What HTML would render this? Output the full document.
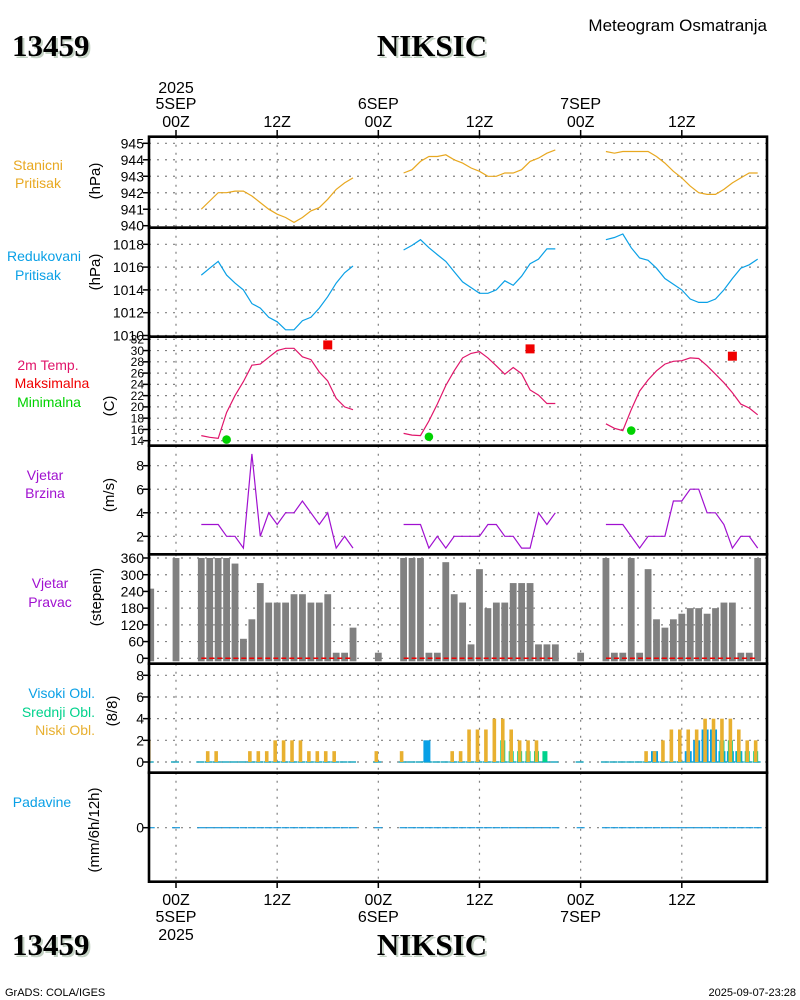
<!DOCTYPE html>
<html><head><meta charset="utf-8"><title>Meteogram NIKSIC</title>
<style>
html,body{margin:0;padding:0;background:#fff;}
svg{display:block;font-family:"Liberation Sans",sans-serif;}
</style></head>
<body>
<svg id="chart" width="800" height="1000" viewBox="0 0 800 1000" xmlns="http://www.w3.org/2000/svg">
<rect x="0" y="0" width="800" height="1000" fill="#fff"/>
<g id="hdr">
<text x="14" y="58" font-family="Liberation Serif,serif" font-weight="bold" font-size="31" fill="#c4d2c4">13459</text>
<text x="12" y="56" font-family="Liberation Serif,serif" font-weight="bold" font-size="31" fill="#000">13459</text>
<text x="434" y="58" text-anchor="middle" font-family="Liberation Serif,serif" font-weight="bold" font-size="31" fill="#c4d2c4">NIKSIC</text>
<text x="432" y="56" text-anchor="middle" font-family="Liberation Serif,serif" font-weight="bold" font-size="31" fill="#000">NIKSIC</text>
<text x="767" y="31" text-anchor="end" font-size="17" fill="#000">Meteogram Osmatranja</text>
<text x="14" y="957" font-family="Liberation Serif,serif" font-weight="bold" font-size="31" fill="#c4d2c4">13459</text>
<text x="12" y="955" font-family="Liberation Serif,serif" font-weight="bold" font-size="31" fill="#000">13459</text>
<text x="434" y="957" text-anchor="middle" font-family="Liberation Serif,serif" font-weight="bold" font-size="31" fill="#c4d2c4">NIKSIC</text>
<text x="432" y="955" text-anchor="middle" font-family="Liberation Serif,serif" font-weight="bold" font-size="31" fill="#000">NIKSIC</text>
<text x="5" y="996" font-size="11" fill="#000">GrADS: COLA/IGES</text>
<text x="796" y="996" text-anchor="end" font-size="11" fill="#000">2025-09-07-23:28</text>
</g>
<g id="plot"></g>
</svg>
<script>
// ---- data (hours from 2025-09-05 00Z) ----
const dayStarts = [3, 27, 51];
const stationPressure = [
 [941.0,941.5,942.0,942.0,942.1,942.1,941.8,941.4,941.0,940.7,940.5,940.2,940.5,940.9,941.1,941.6,942.2,942.6,942.9],
 [943.2,943.4,943.9,944.2,944.2,944.3,944.0,943.8,943.5,943.3,943.0,943.0,943.2,943.2,943.4,943.9,944.1,944.4,944.6],
 [944.5,944.4,944.5,944.5,944.5,944.5,944.2,943.8,943.3,942.9,942.4,942.0,941.9,941.9,942.2,942.6,942.9,943.2,943.2]];
const reducedPressure = [
 [1015.3,1015.9,1016.5,1015.3,1014.6,1014.0,1012.8,1012.4,1011.6,1011.2,1010.5,1010.5,1011.3,1011.6,1012.4,1013.4,1014.6,1015.5,1016.1],
 [1017.5,1017.9,1018.4,1017.7,1017.1,1016.5,1015.6,1014.7,1014.2,1013.7,1013.7,1014.0,1014.8,1014.4,1015.2,1016.3,1016.7,1017.6,1017.6],
 [1018.4,1018.6,1018.9,1017.7,1016.8,1016.6,1015.9,1015.0,1014.5,1014.0,1013.2,1012.9,1012.9,1013.2,1014.0,1015.0,1015.9,1016.2,1016.7]];
const temperature = [
 [14.9,14.6,14.4,19.0,22.0,24.5,27.4,27.6,28.8,30.0,30.4,30.4,28.9,28.4,26.2,24.6,21.5,20.0,19.5],
 [15.3,15.0,14.9,17.5,20.5,23.8,26.4,28.7,29.5,29.8,28.7,27.3,25.8,27.0,25.9,23.0,22.1,20.6,20.6],
 [17.0,16.2,15.8,19.5,22.8,24.8,26.4,27.6,28.1,28.2,28.7,28.6,27.3,25.8,24.3,22.5,20.5,19.8,18.6]];
const maxTempHours = [18, 42, 66];
const maxTempValues = [31.0, 30.3, 29.0];
const minTempHours = [6, 30, 54];
const minTempValues = [14.2, 14.7, 15.8];
const windSpeed = [
 [3,3,3,2,2,1,9,2,4,3,4,4,5,4,3,4,1,2,1],
 [3,3,3,1,2,1,2,2,2,2,3,3,2,2,1,1,4,3,4],
 [3,3,3,2,1,2,2,2,5,5,6,6,4,4,3,1,2,2,1]];
const dirHours = [-3,0,3,4,5,6,7,8,9,10,11,12,13,14,15,16,17,18,19,20,21,24,
 27,28,29,30,31,32,33,34,35,36,37,38,39,40,41,42,43,44,45,48,
 51,52,53,54,55,56,57,58,59,60,61,62,63,64,65,66,67,68,69];
const dirValues = [250,360,360,360,360,360,340,70,140,270,200,200,200,230,230,200,200,230,20,20,110,20,
 360,360,360,20,20,345,230,200,50,320,180,200,200,270,270,270,50,50,50,20,
 360,20,20,360,20,320,140,110,140,160,180,180,160,180,200,200,20,20,360];
const lowCloudHours = [-3,4,5,9,10,11,12,13,14,15,16,17,18,19,24,27,33,34,35,36,37,38,39,40,41,42,43,56,57,58,59,60,61,62,63,64,65,66,67,68,69];
const lowCloudValues = [2,1,1,1,1,1,2,2,2,2,1,1,1,1,1,1,1,1,3,3,3,4,4,3,2,2,2,1,1,2,3,3,3,3,4,4,4,4,3,2,2];
const midCloudHours = [39,40,41,42,43,44,65,66,67,68,69];
const midCloudValues = [2,1,1,1,1,1,2,2,1,1,1];
const highCloudHours = [30,57,61,62,63,64,65,66,67];
const highCloudValues = [2,1,1,2,3,3,1,1,1];
const obsHours = [-3,0,3,4,5,6,7,8,9,10,11,12,13,14,15,16,17,18,19,20,21,24,
 27,28,29,30,31,32,33,34,35,36,37,38,39,40,41,42,43,44,45,48,
 51,52,53,54,55,56,57,58,59,60,61,62,63,64,65,66,67,68,69];
const precipTicks = [0];
const gridHours = [0,12,24,36,48,60];
const topTimeLabels = [["2025","5SEP","00Z"],["","","12Z"],["","6SEP","00Z"],["","","12Z"],["","7SEP","00Z"],["","","12Z"]];
const botTimeLabels = [["00Z","5SEP","2025"],["12Z","",""],["00Z","6SEP",""],["12Z","",""],["00Z","7SEP",""],["12Z","",""]];

// ---- layout ----
const NS = "http://www.w3.org/2000/svg";
const plot = document.getElementById('plot');
const XL = 149, XR = 767;
function X(h){ return 176 + 8.43*h; }
function lin(v0,y0,v1,y1){ return v => y0 + (v-v0)*(y1-y0)/(v1-v0); }
const panels = [
 {name:'station-pressure', top:136.7, bot:227.7, y:lin(940,225.7,945,143.3), ticks:[940,941,942,943,944,945]},
 {name:'reduced-pressure', top:227.7, bot:336.7, y:lin(1010,335.5,1018,244.3), ticks:[1010,1012,1014,1016,1018]},
 {name:'temperature', top:336.7, bot:445.7, y:lin(14,440.7,32,339.3), ticks:[14,16,18,20,22,24,26,28,30,32]},
 {name:'wind-speed', top:445.7, bot:554.3, y:lin(2,536.3,8,465.7), ticks:[2,4,6,8]},
 {name:'wind-direction', top:554.3, bot:663.7, y:lin(0,658.3,360,558), ticks:[0,60,120,180,240,300,360]},
 {name:'cloud-cover', top:663.7, bot:772.7, y:lin(0,762,8,675.3), ticks:[0,2,4,6,8]},
 {name:'precipitation', top:772.7, bot:881.7, y:lin(0,827.7,1,810), ticks:precipTicks}
];
function mk(tag, attrs, parent){
 const e = document.createElementNS(NS, tag);
 for (const k in attrs) e.setAttribute(k, attrs[k]);
 (parent||plot).appendChild(e);
 return e;
}
function txt(x,y,s,attrs,parent){
 const e = mk('text', Object.assign({x:x,y:y},attrs||{}), parent);
 e.textContent = s; return e;
}

// grids and ticks
panels.forEach(p => {
 const g = mk('g', {});
 
 
 gridHours.forEach(h => {
  const l = mk('line', {x1:X(h),x2:X(h),y1:p.top,y2:p.bot,stroke:'#808080','stroke-width':1.2,'stroke-dasharray':'2,6'}, g);
  
  
 });
 p.ticks.forEach(t => {
  const yy = p.y(t);
  const l = mk('line', {x1:XL,x2:XR,y1:yy,y2:yy,stroke:'#808080','stroke-width':1.2,'stroke-dasharray':'2,6'}, g);
  
  
  const tk = mk('line', {x1:XL-6,x2:XL,y1:yy,y2:yy,stroke:'#000','stroke-width':1.5}, g);
  
  
  const fs = p.name==='temperature' ? 12 : 14;
  const lb = txt(144, yy + fs*0.36, String(t), {'text-anchor':'end','font-size':fs,fill:'#000'}, g);
  
  
 });
 p.g = g;
});

// time labels & ticks
gridHours.forEach((h,i) => {
 mk('line',{x1:X(h),x2:X(h),y1:130,y2:137,stroke:'#000','stroke-width':1.5});
 mk('line',{x1:X(h),x2:X(h),y1:881,y2:888,stroke:'#000','stroke-width':1.5});
 const tl = topTimeLabels[i];
 [93,109,127].forEach((yy,j)=>{ if(tl[j]){ const t=txt(X(h),yy,tl[j],{'text-anchor':'middle','font-size':16,fill:'#000'});
    }});
 const bl = botTimeLabels[i];
 [905,922,940].forEach((yy,j)=>{ if(bl[j]){ const t=txt(X(h),yy,bl[j],{'text-anchor':'middle','font-size':16,fill:'#000'});
    }});
});

// series lines
function drawDays(series, p, color, name){
 series.forEach((vals, d) => {
  const pts = vals.map((v,i)=> X(dayStarts[d]+i).toFixed(1)+','+p.y(v).toFixed(1)).join(' ');
  const l = mk('polyline',{points:pts,fill:'none',stroke:color,'stroke-width':1.2}, p.g);
  
  
 });
}
drawDays(stationPressure, panels[0], '#e8a820', 'station-pressure-line');
drawDays(reducedPressure, panels[1], '#0aa0e6', 'reduced-pressure-line');
drawDays(temperature, panels[2], '#e0156a', 'temperature-line');
drawDays(windSpeed, panels[3], '#a010d0', 'wind-speed-line');

maxTempHours.forEach((h,i)=>{
 const r = mk('rect',{x:X(h)-4.5,y:panels[2].y(maxTempValues[i])-4.5,width:9,height:9,fill:'#f00000'}, panels[2].g);
 
 
});
minTempHours.forEach((h,i)=>{
 const c = mk('circle',{cx:X(h),cy:panels[2].y(minTempValues[i]),r:4.3,fill:'#00d200'}, panels[2].g);
 
 
});

// wind direction bars
const pd = panels[4];
dirHours.forEach((h,i)=>{
 let x0 = X(h)-3.4, x1 = X(h)+3.4;
 x0 = Math.max(x0, XL); x1 = Math.min(x1, XR);
 const b = mk('rect',{x:x0,y:pd.y(dirValues[i]),width:x1-x0,height:pd.y(0)+3-pd.y(dirValues[i]),fill:'#808080'}, pd.g);
 
 
});
dayStarts.forEach(s=>{
 const l = mk('line',{x1:X(s),x2:X(s+18),y1:pd.y(0),y2:pd.y(0),stroke:'#f00000','stroke-width':1.5,'stroke-dasharray':'5,3'}, pd.g);
 
 
});

// clouds
const pc = panels[5];
function cloudBars(hours, vals, w, color, name){
 hours.forEach((h,i)=>{
  let x0 = X(h)-2-w/2, x1 = X(h)-2+w/2;
  x0 = Math.max(x0, XL+1); x1 = Math.min(x1, XR);
  const b = mk('rect',{x:x0,y:pc.y(vals[i]),width:x1-x0,height:pc.y(0)-pc.y(vals[i]),fill:color}, pc.g);
  
  
 });
}
obsHours.forEach(h=>{
 const l = mk('line',{x1:Math.max(X(h)-5,XL+1),x2:X(h)+3,y1:pc.y(0),y2:pc.y(0),stroke:'#20a8c0','stroke-width':1.5}, pc.g);
 
 
});
cloudBars(highCloudHours, highCloudValues, 7, '#08a0e6', 'high-cloud-bar');
cloudBars(midCloudHours, midCloudValues, 5, '#00d28c', 'middle-cloud-bar');
cloudBars(lowCloudHours, lowCloudValues, 3.6, '#e8b030', 'low-cloud-bar');

// precipitation zero marks
const pp = panels[6];
obsHours.forEach(h=>{
 const l = mk('line',{x1:Math.max(X(h)-4,XL+1),x2:X(h)+4,y1:pp.y(0),y2:pp.y(0),stroke:'#1898d8','stroke-width':1.2}, pp.g);
 
 
});

// frames
panels.forEach(p=>{
 const r = mk('rect',{x:XL,y:p.top,width:XR-XL,height:p.bot-p.top,fill:'none',stroke:'#000','stroke-width':2.6});
 
 
});

// left titles
const leftLabels = [
 ['Stanicni',38,170,'#e8a820','middle'],['Pritisak',38,188,'#e8a820','middle'],
 ['Redukovani',44,261,'#0aa0e6','middle'],['Pritisak',38,280,'#0aa0e6','middle'],
 ['2m Temp.',48,370,'#e0156a','middle'],['Maksimalna',52,388,'#f00000','middle'],['Minimalna',49,407,'#00d200','middle'],
 ['Vjetar',45,480,'#a010d0','middle'],['Brzina',45,498,'#a010d0','middle'],
 ['Vjetar',50,588,'#a010d0','middle'],['Pravac',50,607,'#a010d0','middle'],
 ['Visoki Obl.',95,698,'#0aa0e6','end'],['Srednji Obl.',95,717,'#00d28c','end'],['Niski Obl.',95,735,'#e8b030','end'],
 ['Padavine',42,807,'#0aa0e6','middle']
];
leftLabels.forEach(l=>{
 const t = txt(l[1],l[2],l[0],{'text-anchor':l[4],'font-size':14,fill:l[3]});
 
 
});
const unitLabels = [['(hPa)',96,181],['(hPa)',96,272],['(C)',110,406],['(m/s)',110,495],['(stepeni)',97,597],['(8/8)',113,711],['(mm/6h/12h)',95,830]];
unitLabels.forEach(u=>{
 const t = txt(u[1],u[2],u[0],{'text-anchor':'middle','font-size':15,fill:'#000','dominant-baseline':'middle',transform:'rotate(-90 '+u[1]+' '+u[2]+')'});
 
 
});
</script>
</body></html>
